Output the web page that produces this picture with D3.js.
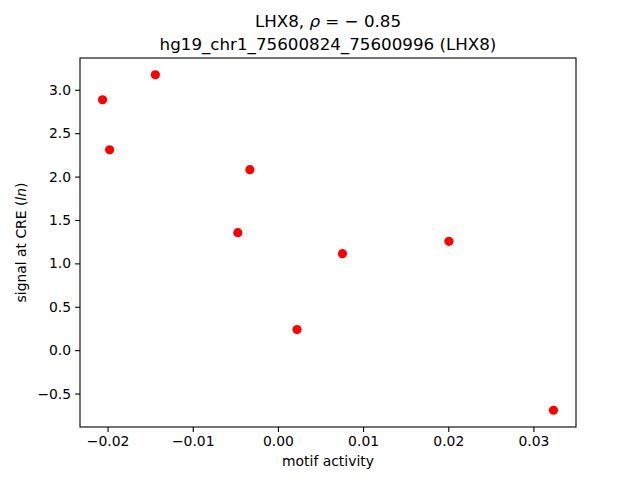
<!DOCTYPE html>
<html>
<head>
<meta charset="utf-8">
<script src="https://cdn.jsdelivr.net/npm/d3@7"></script>
<style>
  body { margin: 0; background: #fff; }
  text { font-family: "DejaVu Sans", sans-serif; fill: #000; }
</style>
</head>
<body>
<div id="chart"></div>
<script>
// values
var motifActivity = [-0.02059, -0.01976, -0.01439, -0.00471, -0.00329, 0.00224, 0.00758, 0.02008, 0.03235];
var signal = [2.885, 2.309, 3.173, 1.354, 2.079, 0.237, 1.112, 1.254, -0.692];

var xTicks = [-0.02, -0.01, 0.00, 0.01, 0.02, 0.03];
var yTicks = [-0.5, 0.0, 0.5, 1.0, 1.5, 2.0, 2.5, 3.0];

var titleGene = "LHX8";
var titleRho = "\u2212 0.85";
var subTitle = "hg19_chr1_75600824_75600996 (LHX8)";

// figure size and axes box (matplotlib default margins)
var width = 640;
var height = 480;
var margin = { left: 80, right: 64, top: 58, bottom: 53 };
var plotW = width - margin.left - margin.right;
var plotH = height - margin.top - margin.bottom;

var points = motifActivity.map(function (d, i) {
    return { x: d, y: signal[i] };
});

// 5% padding on both axes, like matplotlib autoscale
function padded(ext) {
    var p = (ext[1] - ext[0]) * 0.05;
    return [ext[0] - p, ext[1] + p];
}

var x = d3.scaleLinear()
    .domain(padded(d3.extent(motifActivity)))
    .range([0, plotW]);

var y = d3.scaleLinear()
    .domain(padded(d3.extent(signal)))
    .range([plotH, 0]);

var svg = d3.select('#chart')
    .append('svg')
    .attr('width', width)
    .attr('height', height);

var g = svg.append('g')
    .attr('transform', 'translate(' + margin.left + ',' + margin.top + ')');

// axes
var xAxis = g.append('g')
    .attr('transform', 'translate(0,' + plotH + ')')
    .call(d3.axisBottom(x).tickValues(xTicks).tickFormat(d3.format('.2f')).tickSize(4.9).tickPadding(4));

var yAxis = g.append('g')
    .call(d3.axisLeft(y).tickValues(yTicks).tickFormat(d3.format('.1f')).tickSize(4.9).tickPadding(4));

[xAxis, yAxis].forEach(function (a) {
    a.select('.domain').remove();
    a.selectAll('line').attr('stroke', '#000').attr('stroke-width', 1.1);
    a.selectAll('text').style('font-size', '13.9px').attr('fill', '#000');
});

// frame
g.append('rect')
    .attr('width', plotW)
    .attr('height', plotH)
    .attr('fill', 'none')
    .attr('stroke', '#000')
    .attr('stroke-width', 1.1);

// points
g.selectAll('circle.dot')
    .data(points)
    .enter()
    .append('circle')
    .attr('class', 'dot')
    .attr('cx', function (d) { return x(d.x); })
    .attr('cy', function (d) { return y(d.y); })
    .attr('r', 4.6)
    .attr('fill', '#ff0000');

// axis labels
svg.append('text')
    .attr('x', margin.left + plotW / 2)
    .attr('y', 466)
    .attr('text-anchor', 'middle')
    .style('font-size', '13.9px')
    .text('motif activity');

var yl = svg.append('text')
    .attr('transform', 'translate(26,' + (margin.top + plotH / 2) + ') rotate(-90)')
    .attr('text-anchor', 'middle')
    .style('font-size', '13.9px');
yl.append('tspan').text('signal at CRE (');
yl.append('tspan').style('font-style', 'italic').text('ln');
yl.append('tspan').text(')');

// title, two lines
var t1 = svg.append('text')
    .attr('x', margin.left + plotW / 2)
    .attr('y', 27)
    .attr('text-anchor', 'middle')
    .style('font-size', '16.7px');
t1.append('tspan').text(titleGene + ', ');
t1.append('tspan').style('font-style', 'italic').text('\u03c1');
t1.append('tspan').text(' = ' + titleRho);

svg.append('text')
    .attr('x', margin.left + plotW / 2)
    .attr('y', 50)
    .attr('text-anchor', 'middle')
    .style('font-size', '16.7px')
    .text(subTitle);
</script>
</body>
</html>
